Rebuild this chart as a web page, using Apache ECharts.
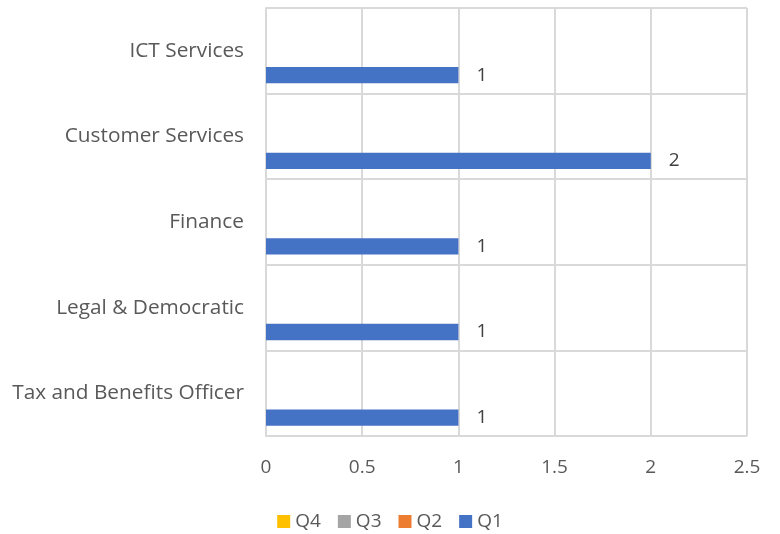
<!DOCTYPE html>
<html>
<head>
<meta charset="utf-8">
<script src="https://cdn.jsdelivr.net/npm/echarts@6/dist/echarts.min.js"></script>
<style>
  html, body { margin: 0; padding: 0; background: #fff; }
  #chart { width: 780px; height: 534px; }
</style>
</head>
<body>
<div id="chart"></div>
<script>
// categories listed bottom to top
const categories = ['Tax and Benefits Officer', 'Legal & Democratic', 'Finance', 'Customer Services', 'ICT Services'];
const q1 = [1, 1, 1, 2, 1];
const q2 = [0, 0, 0, 0, 0];
const q3 = [0, 0, 0, 0, 0];
const q4 = [0, 0, 0, 0, 0];
const xTicks = [0, 0.5, 1, 1.5, 2, 2.5];

const font = 'Open Sans, Liberation Sans, sans-serif';

const chartDom = document.getElementById('chart');
if (chartDom) {
    const chart = echarts.init(chartDom);
    const mkSeries = (name, data, color, showLabel) => ({
        name: name,
        type: 'bar',
        data: data,
        barGap: '0%',
        barCategoryGap: '24%',
        itemStyle: { color: color },
        label: {
            show: showLabel,
            position: 'right',
            distance: 18,
            color: '#404040',
            fontSize: 19,
            fontFamily: font
        }
    });
    const option = {
        animation: false,
        legend: {
            data: ['Q4', 'Q3', 'Q2', 'Q1'],
            top: 507,
            left: 'center',
            itemWidth: 13,
            itemHeight: 13,
            itemGap: 17,
            icon: 'rect',
            textStyle: { color: '#595959', fontSize: 19, fontFamily: font }
        },
        grid: { left: 266, right: 33, top: 8, bottom: 98 },
        xAxis: {
            type: 'value',
            min: xTicks[0],
            max: xTicks[xTicks.length - 1],
            interval: 0.5,
            axisLine: { show: false },
            axisTick: { show: false },
            axisLabel: { color: '#595959', fontSize: 19, fontFamily: font, margin: 22 },
            splitLine: { lineStyle: { color: '#d9d9d9', width: 2 } }
        },
        yAxis: {
            type: 'category',
            data: categories,
            axisLine: { show: true, lineStyle: { color: '#d9d9d9', width: 2 } },
            axisTick: { show: false },
            axisLabel: { color: '#595959', fontSize: 20.8, fontFamily: font, margin: 22 },
            splitLine: { show: true, lineStyle: { color: '#d9d9d9', width: 2 } }
        },
        // in a horizontal bar chart the first series sits on top, so Q1 goes last
        series: [
            mkSeries('Q4', q4, '#ffc000', false),
            mkSeries('Q3', q3, '#a5a5a5', false),
            mkSeries('Q2', q2, '#ed7d31', false),
            mkSeries('Q1', q1, '#4472c4', true)
        ]
    };
    chart.setOption(option);
    window.addEventListener('resize', () => chart.resize());
}
</script>
</body>
</html>
